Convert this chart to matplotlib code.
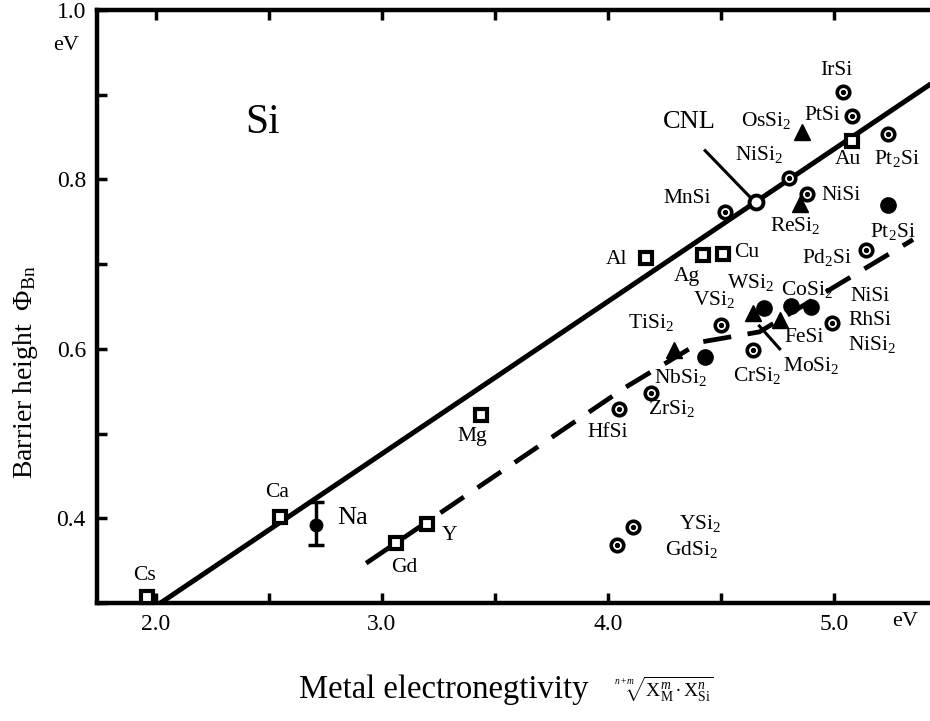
import matplotlib
matplotlib.use('Agg')
import matplotlib.pyplot as plt
from matplotlib.ticker import MultipleLocator

plt.rcParams['font.family'] = ['Liberation Serif', 'DejaVu Serif']
plt.rcParams['mathtext.fontset'] = 'custom'
plt.rcParams['mathtext.rm'] = 'Liberation Serif'
plt.rcParams['mathtext.it'] = 'Liberation Serif:italic'
plt.rcParams['mathtext.bf'] = 'Liberation Serif:bold'

# metals (open squares)
sq_names = ['Cs', 'Ca', 'Gd', 'Y', 'Mg', 'Al', 'Ag', 'Cu', 'Au']
sq_x = [1.96, 2.55, 3.06, 3.20, 3.44, 4.17, 4.42, 4.51, 5.08]
sq_y = [0.307, 0.401, 0.371, 0.393, 0.522, 0.707, 0.711, 0.712, 0.845]

# silicides (open circles with centre dot)
oc_names = ['IrSi', 'PtSi', 'Pt2Si', 'NiSi2', 'MnSi', 'NiSi', 'Pd2Si', 'VSi2',
            'CrSi2', 'RhSi', 'ZrSi2', 'HfSi', 'YSi2', 'GdSi2']
oc_x = [5.04, 5.08, 5.24, 4.80, 4.52, 4.88, 5.14, 4.50,
        4.64, 4.99, 4.19, 4.05, 4.11, 4.04]
oc_y = [0.903, 0.875, 0.854, 0.802, 0.762, 0.783, 0.717, 0.628,
        0.599, 0.631, 0.548, 0.529, 0.390, 0.368]

# silicides (filled triangles)
tri_names = ['OsSi2', 'ReSi2', 'WSi2', 'TiSi2', 'FeSi']
tri_x = [4.86, 4.85, 4.64, 4.29, 4.76]
tri_y = [0.856, 0.771, 0.642, 0.599, 0.634]

# filled circles
fc_names = ['Pt2Si', 'NbSi2', 'MoSi2', 'CoSi2', 'NiSi']
fc_x = [5.24, 4.43, 4.69, 4.81, 4.90]
fc_y = [0.770, 0.590, 0.648, 0.651, 0.649]

# Na with error bar
na_x = 2.71
na_y = 0.392
na_lo = 0.368
na_hi = 0.419

# charge neutrality level point
cnl_x = 4.655
cnl_y = 0.773

# guide lines
solid_x = [2.02, 5.43]
solid_y = [0.300, 0.913]
dash_x = [2.93, 4.08, 4.41, 4.67, 5.35]
dash_y = [0.347, 0.555, 0.608, 0.620, 0.729]

# labels: text, x, y
lab_text = ['Cs', 'Ca', 'Gd', 'Y', 'Mg', 'HfSi', r'ZrSi$_2$', r'YSi$_2$', r'GdSi$_2$',
            r'NbSi$_2$', r'CrSi$_2$', r'MoSi$_2$', 'FeSi', r'NiSi$_2$', 'RhSi', 'NiSi',
            r'CoSi$_2$', r'WSi$_2$', r'VSi$_2$', r'TiSi$_2$', 'Ag', 'Al', 'Cu',
            r'Pd$_2$Si', r'Pt$_2$Si', r'ReSi$_2$', 'NiSi', 'MnSi', r'NiSi$_2$',
            r'OsSi$_2$', 'PtSi', 'IrSi', 'Au', r'Pt$_2$Si']
lab_x = [1.95, 2.535, 3.10, 3.30, 3.40, 4.00, 4.28, 4.41, 4.37,
         4.32, 4.66, 4.90, 4.87, 5.17, 5.16, 5.16,
         4.88, 4.63, 4.47, 4.19, 4.35, 4.04, 4.615,
         4.97, 5.26, 4.83, 5.03, 4.35, 4.67,
         4.70, 4.95, 5.01, 5.06, 5.28]
lab_y = [0.333, 0.430, 0.342, 0.380, 0.496, 0.501, 0.530, 0.394, 0.363,
         0.566, 0.568, 0.580, 0.613, 0.605, 0.634, 0.662,
         0.670, 0.678, 0.658, 0.631, 0.685, 0.706, 0.714,
         0.708, 0.738, 0.746, 0.781, 0.778, 0.829,
         0.870, 0.876, 0.928, 0.823, 0.825]

fig = plt.figure(figsize=(9.3, 7.21), dpi=100)
ax = fig.add_axes([97 / 930, 118 / 721, 833 / 930, 593 / 721])
ax.set_xlim(1.739, 5.425)
ax.set_ylim(0.3, 1.0)

ax.plot(solid_x, solid_y, color='black', lw=3.6, solid_capstyle='butt', zorder=2)
ax.plot(dash_x, dash_y, color='black', lw=3.4, dashes=(6, 3.5), zorder=2)

# CNL pointer and MoSi2 pointer
ax.plot([4.43, 4.64], [0.834, 0.776], color='black', lw=2.2, zorder=2)
ax.plot([4.67, 4.76], [0.627, 0.600], color='black', lw=2.2, zorder=2)

ax.plot(sq_x, sq_y, ls='none', marker='s', ms=9, mew=3, mfc='white',
        mec='black', zorder=4, clip_on=False)
ax.plot(oc_x, oc_y, ls='none', marker='o', ms=9, mew=2.6, mfc='white',
        mec='black', zorder=4)
ax.plot(oc_x, oc_y, ls='none', marker='o', ms=2.8, color='black', zorder=5)
ax.plot(tri_x, tri_y, ls='none', marker='^', ms=11, color='black', zorder=4)
ax.plot(fc_x, fc_y, ls='none', marker='o', ms=11, color='black', zorder=4)
ax.plot([cnl_x], [cnl_y], ls='none', marker='o', ms=10, mew=2.8, mfc='white',
        mec='black', zorder=4)

ax.errorbar([na_x], [na_y], yerr=[[na_y - na_lo], [na_hi - na_y]], fmt='o',
            ms=9, color='black', elinewidth=2.5, capsize=6, capthick=2.5, zorder=4)

for t, x, y in zip(lab_text, lab_x, lab_y):
    ax.text(x, y, t, fontsize=15.5, ha='center', va='center', zorder=6)

ax.text(2.80, 0.400, 'Na', fontsize=19, ha='left', va='center')
ax.text(4.36, 0.868, 'CNL', fontsize=19, ha='center', va='center')
ax.text(2.47, 0.867, 'Si', fontsize=30, ha='center', va='center')

# unit labels
ax.text(-0.037, 0.94, 'eV', fontsize=16, ha='center', va='center', transform=ax.transAxes)
ax.text(0.97, -0.032, 'eV', fontsize=16, ha='center', va='center', transform=ax.transAxes)

for side in ['left', 'top', 'bottom']:
    ax.spines[side].set_linewidth(3.2)
ax.spines['right'].set_visible(False)

ax.xaxis.set_major_locator(MultipleLocator(1.0))
ax.xaxis.set_minor_locator(MultipleLocator(0.5))
ax.yaxis.set_major_locator(MultipleLocator(0.2))
ax.yaxis.set_minor_locator(MultipleLocator(0.1))
ax.xaxis.set_major_formatter(plt.FormatStrFormatter('%.1f'))
ax.yaxis.set_major_formatter(plt.FormatStrFormatter('%.1f'))
ax.tick_params(which='both', direction='in', top=True, length=7, width=2.5,
               labelsize=17, pad=8)

ax.set_xlabel('Metal electronegtivity', fontsize=23.5, va='center')
ax.xaxis.set_label_coords(0.4166, -0.147)
ax.text(0.68, -0.145,
        r'$\sqrt[n+m]{\mathrm{X}_\mathrm{M}^{m} \bullet \mathrm{X}_\mathrm{Si}^{n}}$',
        fontsize=14, ha='center', va='center', transform=ax.transAxes)
ax.set_ylabel(r'Barrier height  $\Phi_\mathrm{Bn}$', fontsize=20, va='center')
ax.yaxis.set_label_coords(-0.086, 0.39)

fig.savefig('out.png', dpi=100)
